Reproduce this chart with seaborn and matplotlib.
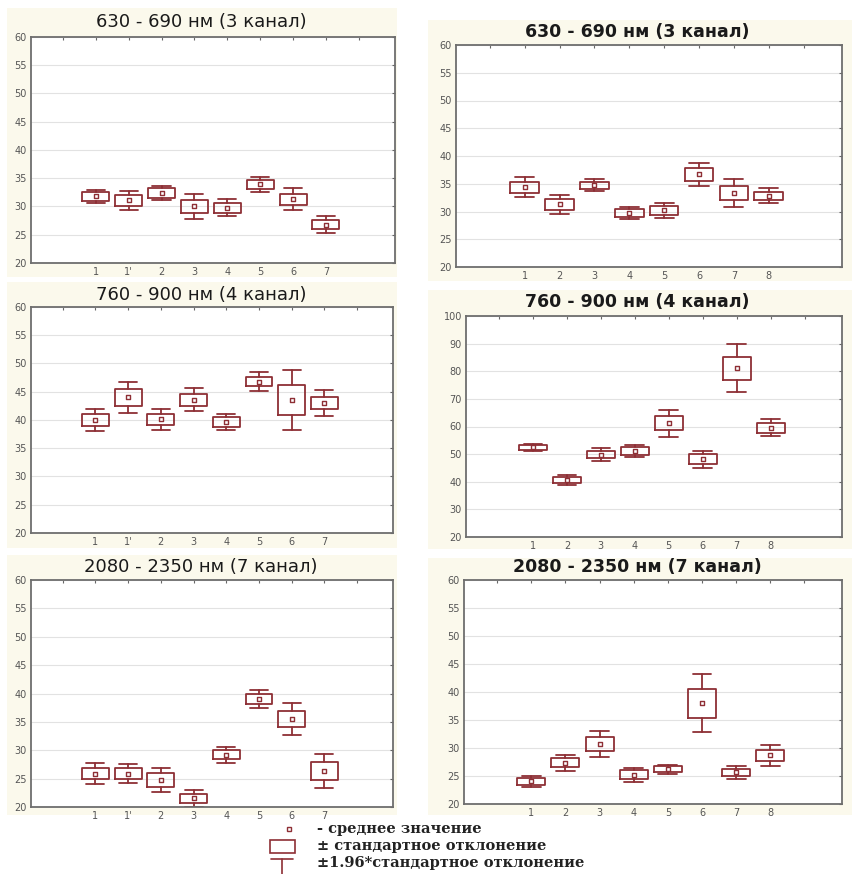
import matplotlib
matplotlib.use("Agg")
import matplotlib.pyplot as plt
from matplotlib.patches import Rectangle
from matplotlib.lines import Line2D
import numpy as np
import pandas as pd
import seaborn as sns

# ---------------- data ----------------
labels_left = ["1", "1'", "2", "3", "4", "5", "6", "7"]
labels_right = ["1", "2", "3", "4", "5", "6", "7", "8"]

titles = ["630 - 690 нм (3 канал)", "630 - 690 нм (3 канал)",
          "760 - 900 нм (4 канал)", "760 - 900 нм (4 канал)",
          "2080 - 2350 нм (7 канал)", "2080 - 2350 нм (7 канал)"]

# top-left
mean_tl = [31.8, 31.1, 32.4, 30.0, 29.8, 33.9, 31.3, 26.8]
sd_tl = [0.8, 1.0, 0.85, 1.2, 0.9, 0.85, 1.0, 0.8]
ci_tl = [1.1, 1.7, 1.3, 2.2, 1.5, 1.4, 1.9, 1.5]
# top-right
mean_tr = [34.4, 31.3, 34.75, 29.7, 30.2, 36.7, 33.3, 32.8]
sd_tr = [1.0, 1.0, 0.65, 0.75, 0.75, 1.15, 1.3, 0.8]
ci_tr = [1.8, 1.75, 1.05, 1.05, 1.4, 2.05, 2.5, 1.35]
# middle-left
mean_ml = [40.0, 44.0, 40.1, 43.6, 39.6, 46.8, 43.5, 43.0]
sd_ml = [1.0, 1.55, 1.05, 1.05, 0.85, 0.85, 2.65, 1.1]
ci_ml = [1.9, 2.8, 1.9, 2.0, 1.4, 1.65, 5.3, 2.3]
# middle-right
mean_mr = [52.5, 40.7, 49.8, 51.2, 61.2, 48.1, 81.1, 59.6]
sd_mr = [0.9, 1.2, 1.3, 1.5, 2.5, 1.8, 4.2, 1.8]
ci_mr = [1.2, 1.9, 2.4, 2.1, 4.9, 3.0, 8.7, 3.1]
# bottom-left
mean_bl = [25.9, 25.9, 24.8, 21.5, 29.2, 39.0, 35.5, 26.4]
sd_bl = [1.05, 0.9, 1.2, 0.75, 0.8, 0.9, 1.45, 1.6]
ci_bl = [1.8, 1.6, 2.15, 1.5, 1.45, 1.6, 2.8, 3.0]
# bottom-right
mean_br = [24.05, 27.35, 30.75, 25.2, 26.2, 38.0, 25.65, 28.7]
sd_br = [0.65, 0.8, 1.3, 0.8, 0.55, 2.6, 0.6, 0.95]
ci_br = [1.0, 1.4, 2.35, 1.2, 0.8, 5.15, 1.1, 1.85]

ylims = [(20, 60), (20, 60), (20, 60), (20, 100), (20, 60), (20, 60)]
ysteps = [5, 5, 5, 10, 5, 5]

legend_texts = ["- среднее значение", "± стандартное отклонение",
                "±1.96*стандартное отклонение"]

# ---------------- style ----------------
sns.set_style("white")
plt.rcParams["font.family"] = ["DejaVu Sans"]

W, H = 853, 874
fig = plt.figure(figsize=(W / 100, H / 100), dpi=100)
fig.patch.set_facecolor("white")

BOX = "#8e2f35"
BEIGE = "#fbf9ec"

def fbox(l, t, r, b):
    return [l / W, 1 - b / H, (r - l) / W, (b - t) / H]

# panel backgrounds (pixels l,t,r,b)
bgs = [(7, 8, 397, 277), (428, 20, 853, 281), (7, 282, 397, 548),
       (428, 290, 853, 549), (7, 555, 397, 815), (428, 558, 853, 815)]
for (l, t, r, b) in bgs:
    fig.patches.append(Rectangle((l / W, 1 - b / H), (r - l) / W, (b - t) / H,
                                 transform=fig.transFigure, facecolor=BEIGE,
                                 edgecolor="none", zorder=-5))

axes_px = [(31, 37, 395, 263), (456, 45, 842, 267), (31, 307, 393, 533),
           (466, 316, 842, 537), (31, 580, 393, 807), (464, 580, 842, 804)]
title_pos = [(201, 22), (637, 32), (201, 295), (637, 302), (201, 567), (637, 567)]

panels = [
    (labels_left, mean_tl, sd_tl, ci_tl),
    (labels_right, mean_tr, sd_tr, ci_tr),
    (labels_left, mean_ml, sd_ml, ci_ml),
    (labels_right, mean_mr, sd_mr, ci_mr),
    (labels_left, mean_bl, sd_bl, ci_bl),
    (labels_right, mean_br, sd_br, ci_br),
]

for i, (labs, m, s, c) in enumerate(panels):
    ax = fig.add_axes(fbox(*axes_px[i]))
    ax.set_zorder(1)
    ax.set_facecolor("white")
    df = pd.DataFrame({"group": labs, "mean": m, "sd": s, "ci": c})
    df["pos"] = np.arange(len(df))
    stats = []
    for _, row in df.iterrows():
        stats.append(dict(med=row["mean"], q1=row["mean"] - row["sd"],
                          q3=row["mean"] + row["sd"],
                          whislo=row["mean"] - row["ci"],
                          whishi=row["mean"] + row["ci"], fliers=[]))
    ax.bxp(stats, positions=df["pos"], widths=0.82, showfliers=False,
           boxprops=dict(color=BOX, linewidth=1.3),
           whiskerprops=dict(color=BOX, linewidth=1.3),
           capprops=dict(color=BOX, linewidth=1.3),
           medianprops=dict(linewidth=0), capwidths=0.55,
           manage_ticks=False)
    sns.scatterplot(data=df, x="pos", y="mean", ax=ax, marker="s", s=10,
                    facecolor="white", edgecolor=BOX, linewidth=1.0, zorder=5,
                    legend=False)
    lo, hi = ylims[i]
    ax.set_ylim(lo, hi)
    ax.set_xlim(-1.97, 9.1)
    ax.set_yticks(np.arange(lo, hi + 0.1, ysteps[i]))
    ax.set_xticks(np.arange(-1, 9))
    ax.set_xticklabels([""] + list(labs) + [""])
    ax.set_xlabel("")
    ax.set_ylabel("")
    ax.grid(axis="y", color="#e2e2e2", linewidth=0.8)
    ax.grid(axis="x", visible=False)
    for sp in ax.spines.values():
        sp.set_visible(True)
        sp.set_color("#6e6e6e")
        sp.set_linewidth(1.3)
    ax.tick_params(axis="both", which="both", direction="in", length=2.5,
                   width=0.8, color="#666666", labelsize=7,
                   labelcolor="#555555", top=True, right=True, pad=3)
    tx, ty = title_pos[i]
    bold = (i % 2 == 1)
    fig.text(tx / W, 1 - ty / H, titles[i], ha="center", va="center",
             fontsize=13 if not bold else 12.5,
             fontweight="bold" if bold else "normal", color="#1a1a1a")

# ---------------- legend ----------------
serif = ["DejaVu Serif"]
ys = [829, 846, 863]
fig.patches.append(Rectangle((287.5 / W, 1 - 831 / H), 4 / W, 4 / H,
                             transform=fig.transFigure, facecolor="white",
                             edgecolor=BOX, linewidth=1.0))
fig.patches.append(Rectangle((270 / W, 1 - 853 / H), 25 / W, 13 / H,
                             transform=fig.transFigure, facecolor="white",
                             edgecolor=BOX, linewidth=1.2))
fig.lines.append(Line2D([271 / W, 293 / W], [1 - 859 / H, 1 - 859 / H],
                        transform=fig.transFigure, color=BOX, linewidth=1.2))
fig.lines.append(Line2D([282 / W, 282 / W], [1 - 859 / H, 1 - 874 / H],
                        transform=fig.transFigure, color=BOX, linewidth=1.2))
for txt, y in zip(legend_texts, ys):
    fig.text(317 / W, 1 - y / H, txt, family=serif, fontsize=10.5,
             fontweight="bold", color="#222222", va="center")

fig.savefig("out.png", dpi=100)
